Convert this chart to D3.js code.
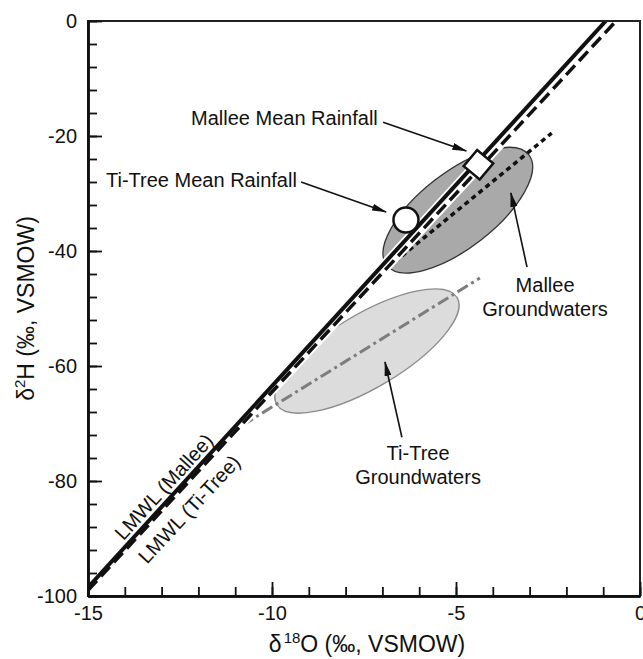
<!DOCTYPE html>
<html>
<head>
<meta charset="utf-8">
<script src="https://cdn.jsdelivr.net/npm/d3@7"></script>
<style>
  body { margin: 0; background: #fff; }
  text { font-family: "Liberation Sans", Arial, sans-serif; fill: #111; }
</style>
</head>
<body>
<div id="chart"></div>
<script>
// Chart size and plot area
const width = 643;
const height = 659;
const margin = { top: 21, right: 3, bottom: 63, left: 88 };

// Axis ticks
const xMajorTicks = [-15, -10, -5, 0];
const xMinorTicks = [-15, -14, -13, -12, -11, -10, -9, -8, -7, -6, -5, -4, -3, -2, -1, 0];
const yMajorTicks = [-100, -80, -60, -40, -20, 0];
const yMinorTicks = [-100, -96, -92, -88, -84, -80, -76, -72, -68, -64, -60, -56, -52, -48, -44,
    -40, -36, -32, -28, -24, -20, -16, -12, -8, -4, 0];

// Meteoric water lines (d18O, d2H)
const lmwlMallee = [[-15, -98.5], [-0.93, 0]];
const lmwlTiTree = [[-15, -99], [-0.65, 0]];

// Groundwater trend lines
const malleeGW = [[-7.6, -46.8], [-2.4, -19.5]];
const tiTreeGW = [[-10.8, -70.3], [-4.35, -44.7]];

// Groundwater fields: centre, end of the long axis, short/long axis ratio
const malleeField = { centre: [-4.95, -32.9], axisEnd: [-3.02, -23.3], ratio: 0.42 };
const tiTreeField = { centre: [-7.42, -57.4], axisEnd: [-4.97, -48.1], ratio: 0.35 };

// Mean rainfall points
const tiTreeRain = [-6.36, -34.6];
const malleeRain = [-4.39, -25.0];

// Annotations: text lines, text anchor point, arrow from/to (data units)
const notes = [
    { lines: ["Mallee Mean Rainfall"], at: [-12.2, -18.1], anchor: "start",
      from: [-6.98, -17.6], to: [-4.72, -22.6] },
    { lines: ["Ti-Tree Mean Rainfall"], at: [-14.51, -28.9], anchor: "start",
      from: [-9.21, -28.0], to: [-6.9, -33.2] },
    { lines: ["Mallee", "Groundwaters"], at: [-2.58, -47.1], anchor: "middle",
      from: [-3.07, -42.8], to: [-3.51, -29.9] },
    { lines: ["Ti-Tree", "Groundwaters"], at: [-6.03, -76.4], anchor: "middle",
      from: [-6.47, -72.4], to: [-6.93, -59.3] }
];

// Labels that sit along the water lines (position along the line as d18O)
const lmwlLabels = [
    { text: "LMWL (Mallee)", line: lmwlMallee, along: -12.7, side: 1 },
    { text: "LMWL (Ti-Tree)", line: lmwlTiTree, along: -12.63, side: -1 }
];

const x = d3.scaleLinear().domain([-15, 0]).range([margin.left, width - margin.right]);
const y = d3.scaleLinear().domain([-100, 0]).range([height - margin.bottom, margin.top]);

const svg = d3.select("#chart")
    .append("svg")
    .attr("width", width)
    .attr("height", height);

const defs = svg.append("defs");
defs.append("clipPath").attr("id", "plot-clip")
    .append("rect")
    .attr("x", x(-15)).attr("y", y(0))
    .attr("width", x(0) - x(-15)).attr("height", y(-100) - y(0));

defs.append("marker")
    .attr("id", "arrow")
    .attr("markerUnits", "userSpaceOnUse")
    .attr("viewBox", "0 0 15 7")
    .attr("markerWidth", 15).attr("markerHeight", 7)
    .attr("refX", 14).attr("refY", 3.5)
    .attr("orient", "auto")
    .append("path")
    .attr("d", "M0,0 L15,3.5 L0,7 Z")
    .attr("fill", "#111");

const plot = svg.append("g").attr("clip-path", "url(#plot-clip)");
const line = d3.line().x(d => x(d[0])).y(d => y(d[1]));

// Ellipse for a groundwater field
function drawField(f, fill, stroke) {
    const cx = x(f.centre[0]), cy = y(f.centre[1]);
    const ex = x(f.axisEnd[0]), ey = y(f.axisEnd[1]);
    const a = Math.hypot(ex - cx, ey - cy);
    const angle = Math.atan2(ey - cy, ex - cx) * 180 / Math.PI;
    plot.append("ellipse")
        .attr("cx", 0).attr("cy", 0)
        .attr("rx", a).attr("ry", a * f.ratio)
        .attr("transform", `translate(${cx},${cy}) rotate(${angle})`)
        .attr("fill", fill)
        .attr("stroke", stroke)
        .attr("stroke-width", 1.3);
}
drawField(tiTreeField, "#dcdcdc", "#8a8a8a");
drawField(malleeField, "#a9a9a9", "#333");

// Groundwater trend lines
plot.append("path").datum(tiTreeGW)
    .attr("d", line)
    .attr("fill", "none")
    .attr("stroke", "#7d7d7d")
    .attr("stroke-width", 3)
    .attr("stroke-dasharray", "12,4,3,4");

plot.append("path").datum(malleeGW)
    .attr("d", line)
    .attr("fill", "none")
    .attr("stroke", "#111")
    .attr("stroke-width", 3.5)
    .attr("stroke-dasharray", "5,4");

// Meteoric water lines with a white casing
[lmwlTiTree, lmwlMallee].forEach(l => {
    plot.append("path").datum(l)
        .attr("d", line)
        .attr("fill", "none")
        .attr("stroke", "#fff")
        .attr("stroke-width", 7.5);
});
plot.append("path").datum(lmwlTiTree)
    .attr("d", line)
    .attr("fill", "none")
    .attr("stroke", "#111")
    .attr("stroke-width", 3.5)
    .attr("stroke-dasharray", "13,6");
plot.append("path").datum(lmwlMallee)
    .attr("d", line)
    .attr("fill", "none")
    .attr("stroke", "#111")
    .attr("stroke-width", 4);

// Rainfall markers
plot.append("circle")
    .attr("cx", x(tiTreeRain[0])).attr("cy", y(tiTreeRain[1]))
    .attr("r", 12.5)
    .attr("fill", "#fff")
    .attr("stroke", "#111")
    .attr("stroke-width", 2.5);

plot.append("rect")
    .attr("x", -10.5).attr("y", -10.5)
    .attr("width", 21).attr("height", 21)
    .attr("transform", `translate(${x(malleeRain[0])},${y(malleeRain[1])}) rotate(40)`)
    .attr("fill", "#fff")
    .attr("stroke", "#111")
    .attr("stroke-width", 2.5);

// Frame and axes
svg.append("rect")
    .attr("x", x(-15)).attr("y", y(0))
    .attr("width", x(0) - x(-15)).attr("height", y(-100) - y(0))
    .attr("fill", "none")
    .attr("stroke", "#222")
    .attr("stroke-width", 2);

function styleAxis(g) {
    g.select(".domain").attr("stroke", "#111").attr("stroke-width", 2.5);
    g.selectAll(".tick line").attr("stroke", "#111").attr("stroke-width", 1.8);
    g.selectAll(".tick text")
        .attr("font-size", 20)
        .attr("font-family", "Liberation Sans, Arial, sans-serif")
        .attr("fill", "#111");
}

const plain = d => String(d);

svg.append("g")
    .attr("transform", `translate(0,${y(-100)})`)
    .call(d3.axisBottom(x).tickValues(xMinorTicks).tickSize(-9).tickSizeOuter(0).tickFormat(""))
    .call(styleAxis);
svg.append("g")
    .attr("transform", `translate(0,${y(-100)})`)
    .call(d3.axisBottom(x).tickValues(xMajorTicks).tickSize(-14).tickSizeOuter(0).tickPadding(10)
        .tickFormat(plain))
    .call(styleAxis);

svg.append("g")
    .attr("transform", `translate(${x(-15)},0)`)
    .call(d3.axisLeft(y).tickValues(yMinorTicks).tickSize(-9).tickSizeOuter(0).tickFormat(""))
    .call(styleAxis);
svg.append("g")
    .attr("transform", `translate(${x(-15)},0)`)
    .call(d3.axisLeft(y).tickValues(yMajorTicks).tickSize(-14).tickSizeOuter(0).tickPadding(11)
        .tickFormat(plain))
    .call(styleAxis);

// Axis titles
const xTitle = svg.append("text")
    .attr("x", 367).attr("y", 652)
    .attr("text-anchor", "middle")
    .attr("font-size", 23);
xTitle.append("tspan").text("δ");
xTitle.append("tspan").attr("font-size", 15).attr("dy", -9).attr("dx", 2).text("18");
xTitle.append("tspan").attr("dy", 9).text("O (‰, VSMOW)");

const yTitle = svg.append("text")
    .attr("transform", `translate(34,${(y(0) + y(-100)) / 2}) rotate(-90)`)
    .attr("text-anchor", "middle")
    .attr("font-size", 23);
yTitle.append("tspan").text("δ");
yTitle.append("tspan").attr("font-size", 15).attr("dy", -9).text("2");
yTitle.append("tspan").attr("dy", 9).text("H (‰, VSMOW)");

// Annotations with arrows
notes.forEach(n => {
    svg.append("line")
        .attr("x1", x(n.from[0])).attr("y1", y(n.from[1]))
        .attr("x2", x(n.to[0])).attr("y2", y(n.to[1]))
        .attr("stroke", "#111")
        .attr("stroke-width", 1.6)
        .attr("marker-end", "url(#arrow)");
    const t = svg.append("text")
        .attr("x", x(n.at[0])).attr("y", y(n.at[1]))
        .attr("text-anchor", n.anchor)
        .attr("font-size", 20);
    n.lines.forEach((s, i) => {
        t.append("tspan")
            .attr("x", x(n.at[0]))
            .attr("dy", i === 0 ? 0 : 24)
            .text(s);
    });
});

// Labels along the water lines
lmwlLabels.forEach(l => {
    const [p0, p1] = l.line;
    const angle = Math.atan2(y(p1[1]) - y(p0[1]), x(p1[0]) - x(p0[0]));
    const t = (l.along - p0[0]) / (p1[0] - p0[0]);
    const px = x(p0[0]) + t * (x(p1[0]) - x(p0[0]));
    const py = y(p0[1]) + t * (y(p1[1]) - y(p0[1]));
    svg.append("text")
        .attr("transform", `translate(${px},${py}) rotate(${angle * 180 / Math.PI})`)
        .attr("text-anchor", "middle")
        .attr("y", l.side > 0 ? -5 : 26)
        .attr("font-size", 20)
        .text(l.text);
});
</script>
</body>
</html>
